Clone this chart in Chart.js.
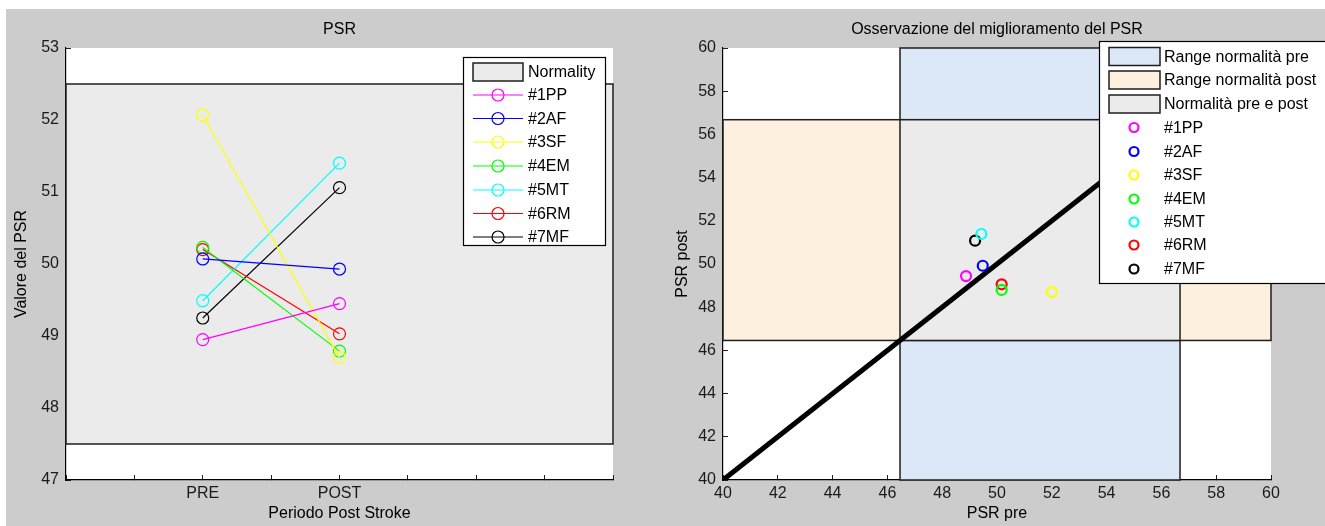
<!DOCTYPE html>
<html>
<head>
<meta charset="utf-8">
<script src="https://cdn.jsdelivr.net/npm/chart.js@4.4.1/dist/chart.umd.min.js"></script>
<style>
  html, body { margin:0; padding:0; background:#cccccc; width:1325px; height:526px; overflow:hidden; position:relative; }
  #bordoTop { position:absolute; left:0; top:0; width:1325px; height:9px; background:#fff; }
  #bordoSx { position:absolute; left:0; top:0; width:6px; height:526px; background:#fff; }
  canvas { position:absolute; top:0; }
  #graficoPSR { left:0; }
  #graficoMiglior { left:660px; }
</style>
</head>
<body>
<div id="bordoTop"></div><div id="bordoSx"></div>
<canvas id="graficoPSR" width="660" height="526"></canvas>
<canvas id="graficoMiglior" width="665" height="526"></canvas>
<script>
// dati
const soggetti = ['#1PP', '#2AF', '#3SF', '#4EM', '#5MT', '#6RM', '#7MF'];
const colori = ['#ff00ff', '#0000ff', '#ffff00', '#00ff00', '#00ffff', '#ff0000', '#000000'];
const psrPre = [48.95, 50.07, 52.07, 50.23, 49.49, 50.20, 49.25];
const psrPost = [49.45, 49.93, 48.70, 48.79, 51.40, 49.03, 51.06];
const periodi = ['PRE', 'POST'];
const posPeriodi = [2, 4];
const normalita = [47.5, 52.5];

const preScatter = [48.87, 49.48, 52.00, 50.17, 49.43, 50.17, 49.20];
const postScatter = [49.44, 49.92, 48.70, 48.80, 51.39, 49.06, 51.08];
const rangePre = [46.46, 56.68];
const rangePost = [46.46, 56.68];
const bisettrice = [40, 60];

const FONT = "'Liberation Sans', Arial, sans-serif";
const tickFont = {family: FONT, size: 16};
const titFont = {family: FONT, size: 16, weight: 'normal'};

// sfondo bianco dell'area del grafico
const sfondoBianco = {
  id: 'sfondoBianco',
  beforeDraw(chart) {
    const a = chart.chartArea, c = chart.ctx;
    c.save();
    c.fillStyle = '#fff';
    c.fillRect(a.left, a.top, a.right - a.left, a.bottom - a.top);
    c.restore();
  }
};

// rettangoli di normalita
const rettangoli = {
  id: 'rettangoli',
  beforeDatasetsDraw(chart, args, opts) {
    const c = chart.ctx, x = chart.scales.x, y = chart.scales.y;
    c.save();
    opts.items.forEach(r => {
      const xa = r.x ? r.x : [x.min, x.max];
      const ya = r.y ? r.y : [y.min, y.max];
      const x0 = x.getPixelForValue(xa[0]), x1 = x.getPixelForValue(xa[1]);
      const y0 = y.getPixelForValue(ya[1]), y1 = y.getPixelForValue(ya[0]);
      c.fillStyle = r.fill;
      c.fillRect(x0, y0, x1 - x0, y1 - y0);
      c.strokeStyle = '#1e1e1e';
      c.lineWidth = 1.5;
      c.strokeRect(x0, y0, x1 - x0, y1 - y0);
    });
    c.restore();
  }
};

// legenda disegnata a mano (box stile matlab)
const legendaBox = {
  id: 'legendaBox',
  afterDraw(chart, args, o) {
    const c = chart.ctx;
    c.save();
    c.fillStyle = '#fff';
    c.fillRect(o.box[0], o.box[1], o.box[2], o.box[3]);
    c.strokeStyle = '#000';
    c.lineWidth = 1.2;
    c.strokeRect(o.box[0], o.box[1], o.box[2], o.box[3]);
    c.font = '16px ' + FONT;
    c.textBaseline = 'middle';
    o.voci.forEach((v, i) => {
      const yy = o.righe[i];
      if (v.tipo === 'patch') {
        c.fillStyle = v.fill;
        c.fillRect(o.patchX, yy - 9, o.patchW, 18);
        c.strokeStyle = '#1e1e1e';
        c.lineWidth = 1.5;
        c.strokeRect(o.patchX, yy - 9, o.patchW, 18);
      } else {
        c.strokeStyle = v.colore;
        if (v.linea) {
          c.lineWidth = 1.2;
          c.beginPath();
          c.moveTo(o.patchX, yy);
          c.lineTo(o.patchX + o.patchW, yy);
          c.stroke();
        }
        c.lineWidth = v.spessore;
        c.beginPath();
        c.arc(o.markX, yy, v.raggio, 0, Math.PI * 2);
        c.stroke();
      }
      c.fillStyle = '#000';
      c.fillText(v.testo, o.testoX, yy + 1);
    });
    c.restore();
  }
};

function assiComuni(opz) {
  return {
    type: 'linear',
    min: opz.min, max: opz.max,
    grid: {display: true, drawOnChartArea: false, tickLength: -5, color: '#222', lineWidth: 1},
    border: {display: true, color: '#000', width: 1.2},
    ticks: {stepSize: opz.step, autoSkip: false, maxRotation: 0, font: tickFont, color: '#1a1a1a',
            padding: opz.pad, callback: opz.cb},
    title: {display: true, text: opz.titolo, font: titFont, color: '#000', padding: opz.tpad},
    afterFit: opz.fit
  };
}

// pannello sinistro
const datiSx = soggetti.map((s, i) => ({
  label: s,
  data: [{x: posPeriodi[0], y: psrPre[i]}, {x: posPeriodi[1], y: psrPost[i]}],
  borderColor: colori[i],
  backgroundColor: 'transparent',
  borderWidth: 1.2,
  pointRadius: 6,
  pointHoverRadius: 6,
  pointBorderWidth: 1.2,
  pointBackgroundColor: 'transparent',
  pointBorderColor: colori[i]
}));

const configSx = {
  type: 'line',
  data: {datasets: datiSx},
  options: {
    responsive: false, animation: false, devicePixelRatio: 1,
    layout: {padding: {left: 0, right: 47, top: 0, bottom: 0}},
    plugins: {
      legend: {display: false},
      tooltip: {enabled: false},
      title: {display: true, fullSize: false, text: 'PSR', font: titFont, color: '#000', padding: {top: 20.4, bottom: 8.4}},
      rettangoli: {items: [{x: null, y: normalita, fill: '#ebebeb'}]},
      legendaBox: {
        box: [463.5, 57.5, 142, 188],
        patchX: 473, patchW: 50, markX: 498, testoX: 528,
        righe: [72, 95, 118.5, 142, 166, 190, 213.5, 237],
        voci: [{tipo: 'patch', fill: '#ebebeb', testo: 'Normality'}].concat(
          soggetti.map((s, i) => ({tipo: 'serie', colore: colori[i], linea: true, raggio: 6, spessore: 1.2, testo: s})))
      }
    },
    scales: {
      x: assiComuni({min: 0, max: 8, step: 1, pad: 9, titolo: 'Periodo Post Stroke', tpad: {bottom: 2.4},
        cb: v => { const k = posPeriodi.indexOf(v); return k >= 0 ? periodi[k] : ''; },
        fit: s => { s.height = 46; }}),
      y: assiComuni({min: 47, max: 53, step: 1, pad: 12, titolo: 'Valore del PSR', tpad: {top: 12.4},
        fit: s => { s.width = 66; }})
    }
  },
  plugins: [sfondoBianco, rettangoli, legendaBox]
};

// pannello destro
const datiDx = soggetti.map((s, i) => ({
  type: 'scatter',
  label: s,
  data: [{x: preScatter[i], y: postScatter[i]}],
  borderColor: colori[i],
  backgroundColor: 'transparent',
  pointRadius: 5,
  pointHoverRadius: 5,
  pointBorderWidth: 2.2,
  order: 0
}));
datiDx.push({
  type: 'line',
  label: 'bisettrice',
  data: [{x: bisettrice[0], y: bisettrice[0]}, {x: bisettrice[1], y: bisettrice[1]}],
  borderColor: '#000',
  borderWidth: 5,
  pointRadius: 0,
  order: 1
});

const configDx = {
  type: 'scatter',
  data: {datasets: datiDx},
  options: {
    responsive: false, animation: false, devicePixelRatio: 1,
    layout: {padding: {left: 0, right: 54, top: 0, bottom: 0}},
    plugins: {
      legend: {display: false},
      tooltip: {enabled: false},
      title: {display: true, fullSize: false, text: 'Osservazione del miglioramento del PSR', font: titFont, color: '#000', padding: {top: 20.4, bottom: 8.4}},
      rettangoli: {items: [
        {x: rangePre, y: null, fill: '#dce8f7'},
        {x: null, y: rangePost, fill: '#fdf0df'},
        {x: rangePre, y: rangePost, fill: '#ebebeb'}
      ]},
      legendaBox: {
        box: [439.5, 41.5, 240, 242],
        patchX: 449, patchW: 51, markX: 474, testoX: 504,
        righe: [56.5, 80, 104, 127.5, 151.5, 175, 199, 222, 245, 269],
        voci: [
          {tipo: 'patch', fill: '#dce8f7', testo: 'Range normalità pre'},
          {tipo: 'patch', fill: '#fdf0df', testo: 'Range normalità post'},
          {tipo: 'patch', fill: '#ebebeb', testo: 'Normalità pre e post'}
        ].concat(soggetti.map((s, i) => ({tipo: 'serie', colore: colori[i], linea: false, raggio: 4.5, spessore: 2.2, testo: s})))
      }
    },
    scales: {
      x: assiComuni({min: 40, max: 60, step: 2, pad: 9, titolo: 'PSR pre', tpad: {bottom: 2.4},
        fit: s => { s.height = 46; }}),
      y: assiComuni({min: 40, max: 60, step: 2, pad: 12, titolo: 'PSR post', tpad: {top: 13.4},
        fit: s => { s.width = 63; }})
    }
  },
  plugins: [sfondoBianco, rettangoli, legendaBox]
};

window.onload = function() {
  new Chart(document.getElementById('graficoPSR').getContext('2d'), configSx);
  new Chart(document.getElementById('graficoMiglior').getContext('2d'), configDx);
};
</script>
</body>
</html>
